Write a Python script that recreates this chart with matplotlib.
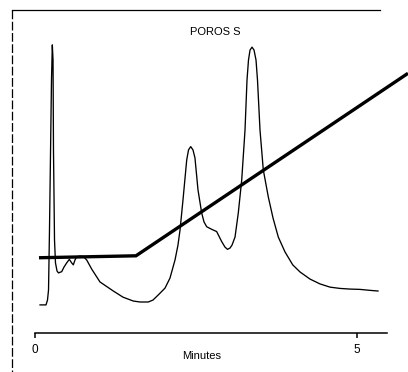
import matplotlib
matplotlib.use("Agg")
import matplotlib.pyplot as plt
from matplotlib.lines import Line2D

plt.rcParams["font.family"] = ["Liberation Sans", "DejaVu Sans"]

# Detector trace (time in minutes, relative absorbance)
time_min = [0.078, 0.171, 0.194, 0.210, 0.225, 0.241, 0.256, 0.269, 0.280, 0.287,
            0.303, 0.318, 0.342, 0.365, 0.415, 0.450, 0.492, 0.533, 0.570, 0.595,
            0.621, 0.648, 0.699, 0.750, 0.803, 0.880, 1.009, 1.216, 1.366, 1.526,
            1.630, 1.759, 1.832, 1.915, 2.019, 2.096, 2.174, 2.220, 2.252, 2.298,
            2.356, 2.384, 2.418, 2.453, 2.484, 2.531, 2.588, 2.624, 2.666, 2.744,
            2.821, 2.899, 2.950, 2.989, 3.028, 3.059, 3.106, 3.157, 3.210, 3.261,
            3.292, 3.315, 3.339, 3.370, 3.401, 3.432, 3.455, 3.494, 3.545, 3.623,
            3.696, 3.778, 3.882, 4.002, 4.115, 4.270, 4.425, 4.581, 4.736, 4.891,
            5.047, 5.202, 5.326]
absorbance = [0.087, 0.087, 0.102, 0.133, 0.319, 0.557, 0.783, 0.892, 0.845, 0.567,
              0.288, 0.217, 0.192, 0.186, 0.190, 0.204, 0.217, 0.228, 0.217, 0.211,
              0.226, 0.236, 0.238, 0.237, 0.226, 0.198, 0.158, 0.130, 0.111, 0.099,
              0.096, 0.096, 0.102, 0.118, 0.139, 0.170, 0.226, 0.272, 0.319, 0.412,
              0.536, 0.567, 0.577, 0.567, 0.542, 0.443, 0.372, 0.344, 0.329, 0.321,
              0.314, 0.283, 0.266, 0.259, 0.263, 0.272, 0.297, 0.372, 0.474, 0.628,
              0.783, 0.845, 0.876, 0.885, 0.876, 0.845, 0.783, 0.628, 0.505, 0.421,
              0.356, 0.297, 0.251, 0.211, 0.189, 0.167, 0.152, 0.142, 0.138, 0.136,
              0.135, 0.132, 0.130]

# Salt gradient profile
gradient_time = [0.062, 1.568, 5.792]
gradient_level = [0.233, 0.239, 0.804]

x_ticks = [0, 5]
x_tick_labels = ["0", "5"]

fig = plt.figure(figsize=(4.08, 3.72), dpi=100)
ax = fig.add_axes([35 / 408, 1 - 333 / 372, 373 / 408, 323 / 372])

ax.plot(time_min, absorbance, color="black", lw=0.95, solid_joinstyle="round")
ax.plot(gradient_time, gradient_level, color="black", lw=2.4,
        solid_capstyle="butt", solid_joinstyle="miter")

ax.set_xlim(0, 5.792)
ax.set_ylim(0, 1)
for side in ("top", "right", "left"):
    ax.spines[side].set_visible(False)
ax.spines["bottom"].set_bounds(0, 5.466)
ax.spines["bottom"].set_linewidth(1.1)
ax.set_xticks(x_ticks)
ax.set_xticklabels(x_tick_labels)
ax.tick_params(axis="x", direction="out", length=3.6, width=1.1, pad=4.0,
               labelsize=8.5)
ax.set_yticks([])
ax.patch.set_visible(False)

fig.text(202 / 408, 1 - 356 / 372, "Minutes", ha="center", va="center", fontsize=8)
fig.text(215 / 408, 1 - 31.7 / 372, "POROS S", ha="center", va="center", fontsize=8)

# Panel frame: top and left rules
fig.add_artist(Line2D([12 / 408, 380 / 408], [1 - 10 / 372, 1 - 10 / 372],
                      transform=fig.transFigure, color="black", lw=0.9))
fig.add_artist(Line2D([12 / 408, 12 / 408], [1 - 10 / 372, 0],
                      transform=fig.transFigure, color="black", lw=0.9,
                      linestyle=(0, (7, 2))))

fig.savefig("out.png", dpi=100)
